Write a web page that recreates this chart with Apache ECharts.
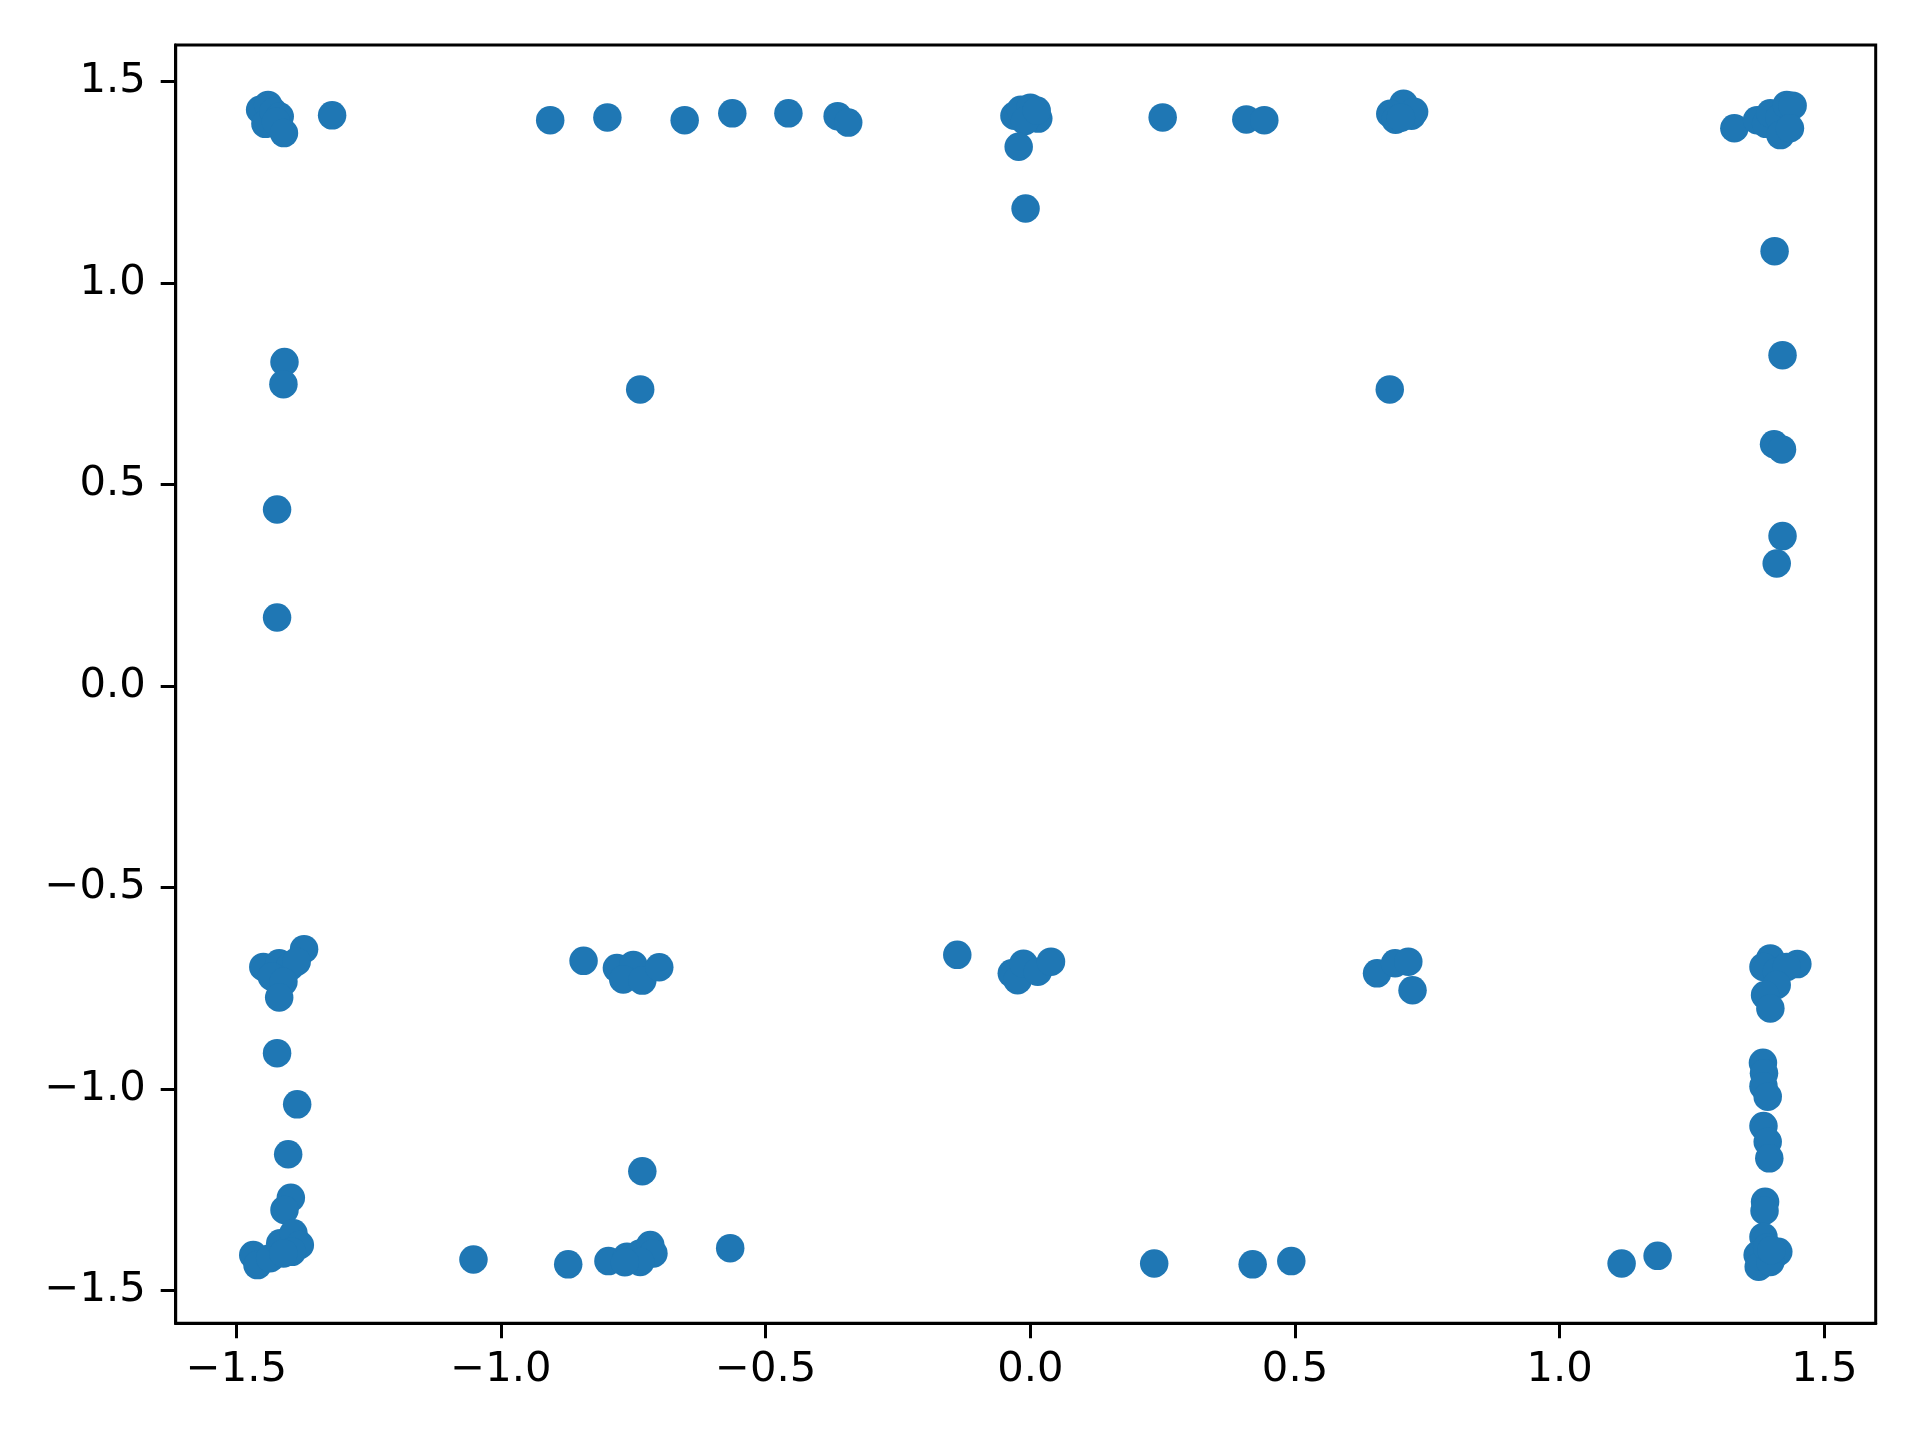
<!DOCTYPE html>
<html>
<head>
<meta charset="utf-8">
<script src="https://cdn.jsdelivr.net/npm/echarts@6/dist/echarts.min.js"></script>
<style>html,body{margin:0;padding:0;background:#fff}#chart{width:1920px;height:1440px}</style>
</head>
<body>
<div id="chart"></div>
<script>
const xTicks = [-1.5, -1.0, -0.5, 0.0, 0.5, 1.0, 1.5];
const yTicks = [-1.5, -1.0, -0.5, 0.0, 0.5, 1.0, 1.5];

const pointsX = [
  -1.455,-1.440,-1.445,-1.430,-1.418,-1.425,-1.410,
  -1.319,
  -0.907,-0.799,-0.653,-0.563,-0.457,-0.364,-0.344,
  -0.030,-0.018,0.000,0.010,0.015,-0.010,0.012,
  -0.022,-0.009,
  0.250,0.408,0.442,
  0.705,0.680,0.690,0.720,0.725,0.700,
  1.330,1.373,1.390,1.398,1.415,1.429,1.440,1.417,1.435,
  1.406,1.421,1.405,1.420,1.421,1.410,
  -1.409,-1.411,-1.423,-1.423,
  -0.737,0.679,
  -1.372,-1.449,-1.419,-1.399,-1.386,-1.433,-1.411,-1.419,
  -1.423,-1.385,-1.402,-1.397,-1.409,
  -1.468,-1.460,-1.436,-1.417,-1.392,-1.380,-1.395,-1.411,
  -0.844,-0.781,-0.750,-0.769,-0.733,-0.701,
  -0.733,
  -1.052,-0.873,-0.797,-0.762,-0.737,-0.718,-0.712,-0.737,-0.766,
  -0.567,
  -0.138,-0.035,-0.024,-0.013,0.014,0.039,
  0.655,0.689,0.714,0.722,
  0.234,0.420,0.493,
  1.117,1.185,
  1.398,1.385,1.410,1.449,1.429,1.410,1.388,1.398,
  1.384,1.386,1.385,1.393,1.385,1.393,1.396,1.388,1.387,
  1.385,1.374,1.376,1.413,1.398,1.392,1.400
];
const pointsY = [
  1.430,1.442,1.395,1.425,1.413,1.400,1.372,
  1.416,
  1.404,1.411,1.404,1.421,1.421,1.414,1.398,
  1.415,1.430,1.435,1.420,1.408,1.402,1.428,
  1.338,1.185,
  1.411,1.406,1.404,
  1.445,1.420,1.405,1.415,1.425,1.410,
  1.384,1.404,1.395,1.421,1.410,1.442,1.440,1.367,1.384,
  1.079,0.821,0.600,0.587,0.372,0.304,
  0.804,0.749,0.438,0.170,
  0.736,0.736,
  -0.653,-0.697,-0.688,-0.697,-0.684,-0.721,-0.734,-0.773,
  -0.911,-1.038,-1.162,-1.270,-1.300,
  -1.412,-1.437,-1.420,-1.383,-1.358,-1.387,-1.404,-1.408,
  -0.682,-0.700,-0.692,-0.728,-0.731,-0.698,
  -1.204,
  -1.423,-1.435,-1.427,-1.416,-1.408,-1.387,-1.408,-1.429,-1.430,
  -1.395,
  -0.667,-0.713,-0.730,-0.689,-0.709,-0.684,
  -0.713,-0.688,-0.684,-0.755,
  -1.433,-1.435,-1.427,
  -1.433,-1.414,
  -0.676,-0.697,-0.709,-0.690,-0.697,-0.742,-0.767,-0.800,
  -0.935,-0.961,-0.993,-1.019,-1.092,-1.131,-1.172,-1.280,-1.302,
  -1.367,-1.412,-1.441,-1.404,-1.429,-1.393,-1.400
];

const data = pointsX.map((x, i) => [x, pointsY[i]]);
const fmt = v => v.toFixed(1).replace('-', '\u2212');
const font = { fontFamily: 'DejaVu Sans', fontSize: 41.7, color: '#000' };

const chart = echarts.init(document.getElementById('chart'), null, { renderer: 'canvas' });
chart.setOption({
  animation: false,
  backgroundColor: '#fff',
  grid: { left: 175.7, right: 44.3, top: 45, bottom: 116.7, show: true, borderColor: '#000', borderWidth: 3, backgroundColor: 'transparent' },
  xAxis: {
    type: 'value', min: -1.6145, max: 1.597,
    splitLine: { show: false },
    axisLine: { show: true, onZero: false, lineStyle: { color: '#000', width: 3 } },
    axisTick: { show: true, length: 15, lineStyle: { color: '#000', width: 3 }, customValues: xTicks },
    axisLabel: { ...font, margin: 26, customValues: xTicks, formatter: fmt }
  },
  yAxis: {
    type: 'value', min: -1.5814, max: 1.5906,
    splitLine: { show: false },
    axisLine: { show: true, onZero: false, lineStyle: { color: '#000', width: 3 } },
    axisTick: { show: true, length: 15, lineStyle: { color: '#000', width: 3 }, customValues: yTicks },
    axisLabel: { ...font, margin: 30, customValues: yTicks, formatter: fmt }
  },
  series: [{
    type: 'scatter',
    data: data,
    symbol: 'circle',
    symbolSize: 28.5,
    itemStyle: { color: '#1f77b4', opacity: 1 }
  }]
});
</script>
</body>
</html>
